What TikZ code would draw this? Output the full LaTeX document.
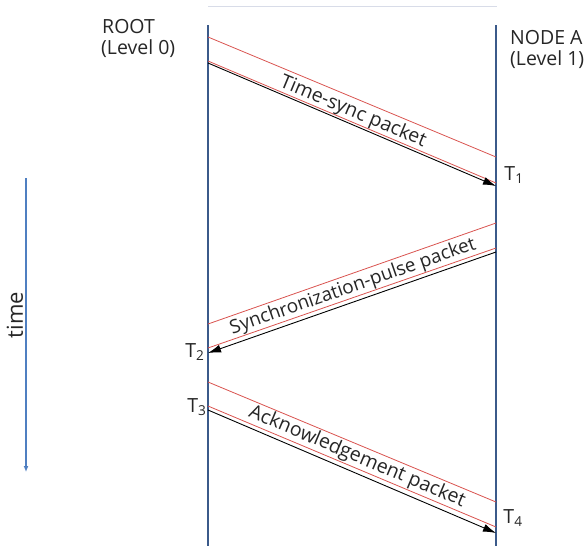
\documentclass[tikz,border=0pt]{standalone}
\usepackage{fontspec}
\setmainfont{Open Sans}
\usetikzlibrary{arrows.meta}
\definecolor{life}{HTML}{3B5A8A}
\definecolor{redl}{HTML}{D9534F}
\definecolor{timec}{HTML}{4F7FC1}
\definecolor{topl}{HTML}{D8DCE8}
\tikzset{
  lifeline/.style={draw=life,line width=2.2pt},
  redline/.style={draw=redl,line width=0.8pt},
  msg/.style={draw=black,line width=0.9pt,-{Latex[length=13pt,width=8pt]}},
  lbl/.style={font=\fontsize{19.5}{21}\selectfont,inner sep=0pt,text=black!85},
  tlbl/.style={font=\fontsize{19.5}{21}\selectfont,inner sep=0pt,text=black!85},
}
\newcommand{\Tsub}[1]{T\textsubscript{#1}}
\begin{document}
\begin{tikzpicture}[x=1pt,y=-1pt]
\useasboundingbox (0,0) rectangle (585,546);
% top faint line
\coordinate (tl1) at (208,6);
\coordinate (tl2) at (497,6);
\draw[topl,line width=1pt] (tl1) -- (tl2);
% lifelines
\coordinate (L0) at (208,25);
\coordinate (L1) at (208,546);
\coordinate (R0) at (496,25);
\coordinate (R1) at (496,546);
\draw[lifeline] (L0) -- (L1);
\draw[lifeline] (R0) -- (R1);
% headers
\node[lbl,anchor=base west] (root) at (102,33) {ROOT};
\node[lbl,anchor=base west] (lev0) at (101,54) {(Level 0)};
\node[lbl,anchor=base west] (nodea) at (510,44) {NODE A};
\node[lbl,anchor=base west] (lev1) at (510,65) {(Level 1)};
% message 1
\coordinate (a1) at (208,37);  \coordinate (a2) at (496,157);
\coordinate (b1) at (208,61);  \coordinate (b2) at (496,183);
\coordinate (c1) at (208,63);  \coordinate (c2) at (496,186);
\draw[redline] (a1) -- (a2);
\draw[redline] (b1) -- (b2);
\draw[msg] (c1) -- (c2);
\node[tlbl,rotate=-22.6] (m1) at (353,112) {Time-sync packet};
\node[tlbl] (t1) at (514,175) {\Tsub{1}};
% message 2
\coordinate (d1) at (208,324); \coordinate (d2) at (496,223);
\coordinate (e1) at (208,348); \coordinate (e2) at (496,248);
\coordinate (f1) at (496,252); \coordinate (f2) at (208,353);
\draw[redline] (d1) -- (d2);
\draw[redline] (e1) -- (e2);
\draw[msg] (f1) -- (f2);
\node[tlbl,font=\fontsize{19}{21}\selectfont,rotate=19.3] (m2) at (353,287) {Synchronization-pulse packet};
\node[tlbl] (t2) at (195,352) {\Tsub{2}};
% message 3
\coordinate (g1) at (208,382); \coordinate (g2) at (496,502);
\coordinate (h1) at (208,406); \coordinate (h2) at (496,527);
\coordinate (k1) at (208,410); \coordinate (k2) at (496,533);
\draw[redline] (g1) -- (g2);
\draw[redline] (h1) -- (h2);
\draw[msg] (k1) -- (k2);
\node[tlbl,rotate=-22.8] (m3) at (357,457) {Acknowledgement packet};
\node[tlbl] (t3) at (197,407) {\Tsub{3}};
\node[tlbl] (t4) at (513,518) {\Tsub{4}};
% time axis
\coordinate (ta) at (26,178);
\coordinate (tb) at (26,472);
\draw[timec,line width=1.5pt,-{Latex[length=6pt,width=5pt]}] (ta) -- (tb);
\node[tlbl,font=\fontsize{22}{24}\selectfont,rotate=90] (time) at (15,315) {time};
\end{tikzpicture}
\end{document}
